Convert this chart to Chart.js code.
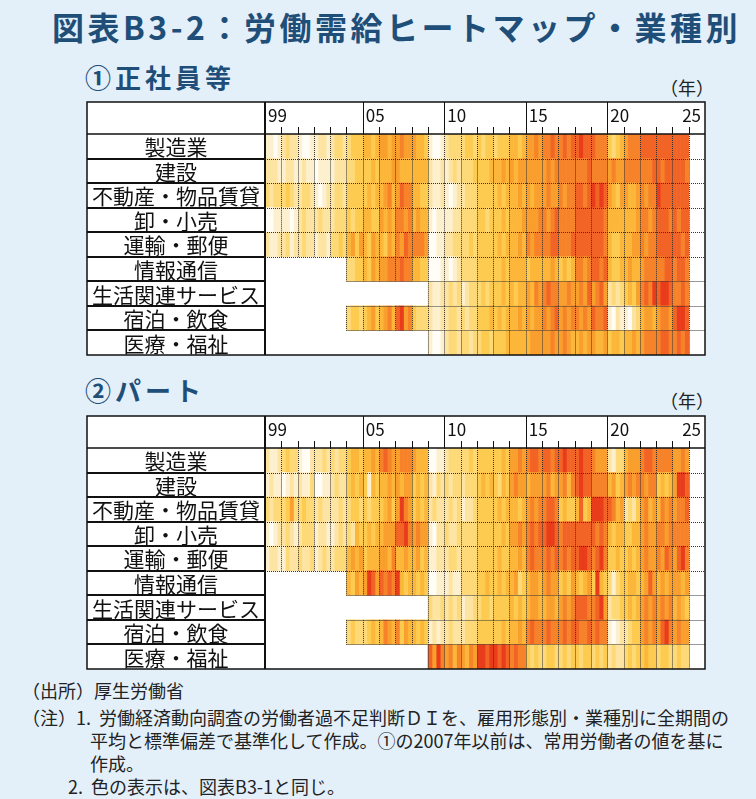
<!DOCTYPE html>
<html lang="ja">
<head>
<meta charset="utf-8">
<script src="https://cdn.jsdelivr.net/npm/chart.js@4.4.1/dist/chart.umd.min.js"></script>
<style>
  body { margin: 0; width: 756px; height: 799px; background: #e3f0fa; position: relative; overflow: hidden;
         font-family: "Noto Sans CJK JP", sans-serif; color: #222; }
  .abs { position: absolute; white-space: nowrap; line-height: 1; }
  #title { left: 52px; top: 10px; font-size: 32px; font-weight: bold; color: #1f4e79; letter-spacing: 3.5px; }
  .sub { left: 85px; font-size: 26px; font-weight: bold; color: #1f4e79; letter-spacing: 4px; }
  .nen { left: 660px; font-size: 18px; }
  .note { font-size: 18px; }
  canvas { position: absolute; left: 0; }
</style>
</head>
<body>
<div id="title" class="abs">図表B3-2：労働需給ヒートマップ・業種別</div>
<div class="abs sub" style="top:64px">①正社員等</div>
<div class="abs nen" style="top:78px">（年）</div>
<canvas id="c1" width="756" height="260" style="top:100px"></canvas>
<div class="abs sub" style="top:377px">②パート</div>
<div class="abs nen" style="top:391px">（年）</div>
<canvas id="c2" width="756" height="260" style="top:414px"></canvas>
<div class="abs note" style="left:22px;top:681px">（出所）厚生労働省</div>
<div class="abs note" style="left:22px;top:708px">（注）1.&nbsp;&nbsp;労働経済動向調査の労働者過不足判断ＤＩを、雇用形態別・業種別に全期間の</div>
<div class="abs note" style="left:90px;top:731px">平均と標準偏差で基準化して作成。①の2007年以前は、常用労働者の値を基に</div>
<div class="abs note" style="left:90px;top:754px">作成。</div>
<div class="abs note" style="left:68px;top:777px">2.&nbsp;&nbsp;色の表示は、図表B3-1と同じ。</div>
<script>
// 業種（行）と各行のデータ開始年
const industries = ['製造業', '建設', '不動産・物品賃貸', '卸・小売', '運輸・郵便', '情報通信', '生活関連サービス', '宿泊・飲食', '医療・福祉'];
const startYears = [1999, 1999, 1999, 1999, 1999, 2004, 2009, 2004, 2009];
const firstYear = 1999;
const lastYear = 2024;
const yearLabels = ['99', '05', '10', '15', '20', '25'];
const yearLabelYears = [1999, 2005, 2010, 2015, 2020, 2025];

// 色の段階（0=不足感弱い 〜 9=不足感強い）、四半期ごと、年ごとに4桁
const regularLevels = [
  '1101 2322 1001 1221 2332 3444 5545 6656 6766 6554 1001 2333 3443 4344 3444 5545 6676 7787 7878 8988 8777 4345 6777 8888 8888 8888',
  '2221 1221 1211 0111 1222 3344 4454 5556 6555 5555 2112 1232 3334 4445 5565 6566 6666 6767 7777 7778 7777 6766 7777 7778 8788 8887',
  '3233 3432 2332 1012 2332 4444 4545 5675 6877 5544 2112 1012 2333 4444 4545 5565 6566 6766 7677 8878 9898 6546 6556 7677 9888 8888',
  '0011 1101 2322 2322 2333 4344 5544 6565 7767 5655 1011 1122 3333 4434 4454 5556 6667 7678 7777 8888 8887 5555 5556 7767 8887 8788',
  '2112 2312 2322 1221 3343 5646 5465 5465 7687 7776 0011 2233 3343 4444 4545 5565 7677 7788 7778 8888 8887 5445 5566 7677 8888 8878',
  '3344 5465 6677 7877 5544 0001 1012 3333 4444 4454 5555 4555 5565 4545 7767 8878 5445 5655 6777 7788 7887',
  '2112 2323 1233 3434 4454 5455 6576 7877 6676 6768 6786 2323 4546 7879 8998 7787',
  '3443 4564 5675 8967 4333 2112 2332 3233 4445 4545 5565 6566 7678 6767 7676 8778 1021 1023 5665 6776 8998',
  '1001 2332 3323 3443 4445 5555 5666 6676 6765 5656 6556 4554 5565 6777 7887 7878'
];
const partLevels = [
  '2112 3433 1002 2232 3233 4554 5565 7876 6777 6555 0011 2333 3343 4444 4454 6676 7887 8878 8988 8988 7666 2133 5666 7887 7777 6676',
  '1211 0121 2113 0011 2322 4545 4154 5565 6566 4545 2132 3233 2333 4545 4354 6766 5666 6756 6757 8988 7777 5645 6767 7677 4545 6998',
  '3233 3463 3433 2322 2232 3443 4344 4564 6976 4545 2322 2323 1223 4444 4545 5545 6767 7887 4544 5845 9998 8756 2324 6756 5767 6778',
  '1012 2321 2333 1221 1232 3254 4545 5666 8897 6766 1022 3223 3333 4444 4454 6676 7878 8998 7888 8888 8787 5455 4455 6766 7767 7777',
  '1221 1322 3223 1232 2333 5656 4555 6657 5565 5645 1122 2332 3333 4444 4544 5565 7877 7878 7878 8998 7897 4454 4545 6766 7687 6897',
  '5465 6986 8787 9545 5454 0011 1211 3333 4454 4545 5634 5665 6766 4546 5456 4954 3134 4554 5686 5656 6656',
  '3223 2323 1223 3443 4444 5454 5665 5665 6767 8887 7896 2334 4545 6767 6767 5654',
  '3433 3454 5765 7465 5454 1212 2322 2333 4444 4454 5565 7877 7877 7878 8778 7877 1012 2344 6767 6897 6766',
  '8697 6757 6576 9989 9898 7877 4343 3443 3434 4344 3434 2322 3434 4544 3443 3433'
];

const levelColors = ['#fffdf6', '#fdf0cf', '#fde4a2', '#fdd978', '#fdcb4f', '#fcb73a', '#f99f2e', '#f68329', '#f16425', '#e83c1b'];
const nq = (lastYear - firstYear + 1) * 4;
const tableLeft = 87;
const headerH = 32;

function parseLevels(s) {
  return s.replace(/\s+/g, '').split('').map(Number);
}

function buildDatasets(levelRows) {
  const rows = levelRows.map(parseLevels);
  const datasets = [];
  for (let q = 0; q < nq; q++) {
    datasets.push({
      data: industries.map(() => 1),
      backgroundColor: rows.map((lv, r) => {
        const i = q - (startYears[r] - firstYear) * 4;
        return i >= 0 && i < lv.length ? levelColors[lv[i]] : 'rgba(0,0,0,0)';
      }),
      borderWidth: 0,
      barPercentage: 1,
      categoryPercentage: 1
    });
  }
  return datasets;
}

function line(ctx, x0, y0, x1, y1) {
  ctx.beginPath();
  ctx.moveTo(x0, y0);
  ctx.lineTo(x1, y1);
  ctx.stroke();
}

const tableFrame = {
  id: 'tableFrame',
  beforeDatasetsDraw(chart) {
    const { ctx, chartArea: a } = chart;
    ctx.save();
    ctx.fillStyle = '#ffffff';
    ctx.fillRect(tableLeft, a.top - headerH, a.right - tableLeft, a.bottom - a.top + headerH);
    ctx.restore();
  },
  afterDatasetsDraw(chart) {
    const { ctx, chartArea: a, scales: { x, y } } = chart;
    const rowH = (a.bottom - a.top) / industries.length;
    const top = a.top - headerH;
    ctx.save();

    // dotted cell grid
    ctx.strokeStyle = '#333';
    ctx.lineWidth = 1;
    ctx.setLineDash([1, 1]);
    industries.forEach((name, r) => {
      const s = (startYears[r] - firstYear) * 4;
      const y0 = a.top + r * rowH, y1 = y0 + rowH;
      for (let q = s === 0 ? 4 : s; q <= nq; q += 4) {
        const px = Math.round(x.getPixelForValue(q)) + 0.5;
        line(ctx, px, y0, px, y1);
      }
      if (r < industries.length - 1) {
        const s2 = (startYears[r + 1] - firstYear) * 4;
        const py = Math.round(y1) + 0.5;
        line(ctx, x.getPixelForValue(Math.min(s, s2)), py, a.right, py);
      }
    });
    ctx.setLineDash([]);

    // header: ticks, 5-year lines, labels
    ctx.strokeStyle = '#111';
    ctx.lineWidth = 1;
    const majors = yearLabelYears.map(yr => (yr - firstYear) * 4);
    for (let q = 4; q <= nq; q += 4) {
      const px = Math.round(x.getPixelForValue(q)) + 0.5;
      if (majors.includes(q) && q < nq) line(ctx, px, top, px, a.top);
      else line(ctx, px, a.top - 7, px, a.top);
    }
    ctx.fillStyle = '#111';
    ctx.font = '17px "Noto Sans CJK JP"';
    ctx.textBaseline = 'middle';
    yearLabels.forEach((lab, i) => {
      const q = (yearLabelYears[i] - firstYear) * 4;
      if (q >= nq) {
        ctx.textAlign = 'right';
        ctx.fillText(lab, a.right - 4, top + 14);
      } else {
        ctx.textAlign = 'left';
        ctx.fillText(lab, x.getPixelForValue(q) + 3, top + 14);
      }
    });

    // label column
    ctx.font = '21px "Noto Sans CJK JP"';
    ctx.textAlign = 'center';
    ctx.lineWidth = 2;
    industries.forEach((name, r) => {
      ctx.fillText(name, (tableLeft + a.left) / 2, y.getPixelForValue(r) + 1);
      if (r > 0) {
        const py = Math.round(a.top + r * rowH);
        line(ctx, tableLeft, py, a.left, py);
      }
    });

    // solid frame
    ctx.lineWidth = 1.5;
    line(ctx, tableLeft, a.top, a.right, a.top);
    ctx.lineWidth = 2;
    line(ctx, a.left, top, a.left, a.bottom);
    ctx.lineWidth = 1.5;
    ctx.strokeRect(tableLeft, top, a.right - tableLeft, a.bottom - top);
    ctx.restore();
  }
};

function makePanel(id, levelRows) {
  new Chart(document.getElementById(id), {
    type: 'bar',
    data: { labels: industries, datasets: buildDatasets(levelRows) },
    options: {
      indexAxis: 'y',
      responsive: false,
      animation: false,
      events: [],
      layout: { padding: { left: 265, right: 51, top: 34, bottom: 5 } },
      scales: {
        x: { type: 'linear', stacked: true, min: 0, max: nq + 4, display: false },
        y: { type: 'category', stacked: true, display: false }
      },
      plugins: { legend: { display: false }, tooltip: { enabled: false } }
    },
    plugins: [tableFrame]
  });
}

makePanel('c1', regularLevels);
makePanel('c2', partLevels);
</script>
</body>
</html>
